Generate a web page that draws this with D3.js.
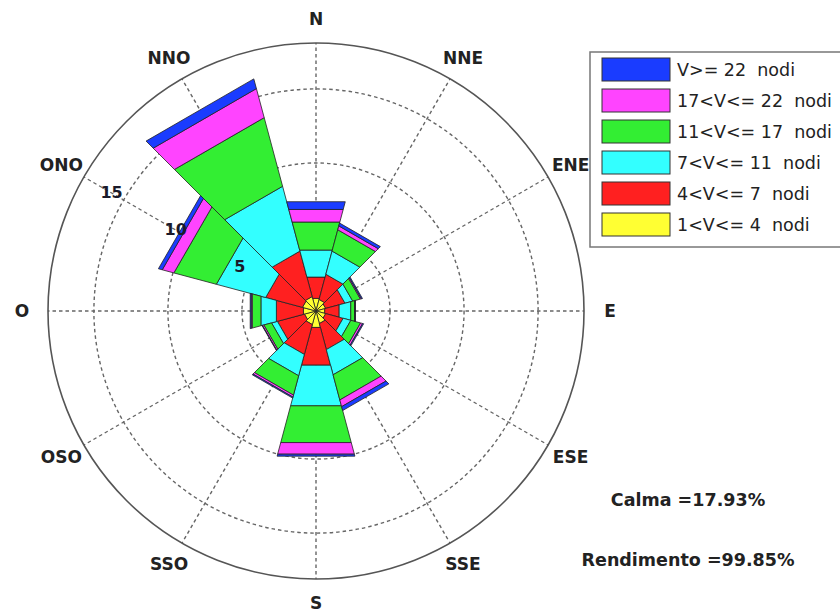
<!DOCTYPE html>
<html>
<head>
<meta charset="utf-8">
<script src="https://cdn.jsdelivr.net/npm/d3@7"></script>
<style>
  body { margin: 0; background: #fff; }
  text { font-family: "DejaVu Sans", sans-serif; }
</style>
</head>
<body>
<div id="rose"></div>
<script>
// direction names, one every 30 degrees clockwise from north
var directions = ["N", "NNE", "ENE", "E", "ESE", "SSE", "S", "SSO", "OSO", "O", "ONO", "NNO"];

// frequency (%) of each speed class per sector, same order as directions
var v1to4   = [0.88, 0.81, 0.68, 0.61, 0.68, 0.88, 1.15, 0.95, 0.81, 0.88, 0.95, 1.01];
var v4to7   = [1.49, 1.76, 1.35, 1.01, 1.22, 1.82, 2.64, 2.09, 1.89, 1.89, 2.57, 3.18];
var v7to11  = [1.89, 1.62, 0.54, 0.81, 0.54, 1.76, 2.84, 1.49, 0.41, 1.08, 3.45, 4.53];
var v11to17 = [1.96, 1.49, 0.54, 0.27, 0.68, 1.76, 2.57, 1.35, 0.54, 0.61, 2.97, 4.80];
var v17to22 = [0.88, 0.27, 0.07, 0.03, 0.14, 0.47, 0.81, 0.14, 0.10, 0.07, 0.81, 2.03];
var v22up   = [0.54, 0.20, 0.07, 0.03, 0.07, 0.27, 0.14, 0.07, 0.03, 0.07, 0.27, 0.68];

var classKeys = ["v1to4", "v4to7", "v7to11", "v11to17", "v17to22", "v22up"];
var classLabels = ["1<V<= 4  nodi", "4<V<= 7  nodi", "7<V<= 11  nodi",
                   "11<V<= 17  nodi", "17<V<= 22  nodi", "V>= 22  nodi"];
var classColors = ["#ffff33", "#ff2020", "#33ffff", "#33ee33", "#ff44ff", "#1a3cff"];

var ringTicks = [5, 10, 15];
var rMaxValue = 18.1;
var calma = "Calma =17.93%";
var rendimento = "Rendimento =99.85%";

var width = 840, height = 613,
    cx = 316, cy = 311,
    outerR = 268;

var svg = d3.select("#rose").append("svg")
    .attr("width", width)
    .attr("height", height);

var r = d3.scaleLinear().domain([0, rMaxValue]).range([0, outerR]);
var sectorAngle = d3.scaleLinear().domain([0, directions.length]).range([0, 2 * Math.PI]);
var half = Math.PI / directions.length;

var g = svg.append("g")
    .attr("transform", "translate(" + cx + "," + cy + ")");

// grid: dashed rings and spokes
g.selectAll(".ring")
    .data(ringTicks)
  .enter().append("circle")
    .attr("class", "ring")
    .attr("r", function(d) { return r(d); })
    .attr("fill", "none")
    .attr("stroke", "#666")
    .attr("stroke-width", 1.4)
    .attr("stroke-dasharray", "3.5,3");

g.selectAll(".spoke")
    .data(directions)
  .enter().append("line")
    .attr("class", "spoke")
    .attr("x1", 0).attr("y1", 0)
    .attr("x2", function(d, i) { return outerR * Math.sin(sectorAngle(i)); })
    .attr("y2", function(d, i) { return -outerR * Math.cos(sectorAngle(i)); })
    .attr("stroke", "#666")
    .attr("stroke-width", 1.4)
    .attr("stroke-dasharray", "3.5,3");

g.append("circle")
    .attr("r", outerR)
    .attr("fill", "none")
    .attr("stroke", "#555")
    .attr("stroke-width", 1.6);

// stacked sectors
var rows = directions.map(function(d, i) {
  return {dir: d, i: i, v1to4: v1to4[i], v4to7: v4to7[i], v7to11: v7to11[i],
          v11to17: v11to17[i], v17to22: v17to22[i], v22up: v22up[i]};
});
var layers = d3.stack().keys(classKeys)(rows);

var poly = d3.lineRadial()
    .angle(function(p) { return p[0]; })
    .radius(function(p) { return r(p[1]); })
    .curve(d3.curveLinearClosed);

layers.forEach(function(layer, k) {
  g.selectAll(".band-" + k)
      .data(layer)
    .enter().append("path")
      .attr("class", "band-" + k)
      .attr("d", function(d) {
        var a = sectorAngle(d.data.i);
        return poly([[a - half, d[0]], [a + half, d[0]], [a + half, d[1]], [a - half, d[1]]]);
      })
      .attr("fill", classColors[k])
      .attr("stroke", "#222")
      .attr("stroke-width", 0.8)
      .attr("stroke-linejoin", "round");
});

// ring labels along the ONO spoke
var labelAngle = sectorAngle(10);
g.selectAll(".ring-label")
    .data(ringTicks)
  .enter().append("text")
    .attr("class", "ring-label")
    .attr("x", function(d) { return (r(d) + 14) * Math.sin(labelAngle); })
    .attr("y", function(d) { return -(r(d) + 14) * Math.cos(labelAngle); })
    .attr("text-anchor", "middle")
    .attr("dominant-baseline", "central")
    .attr("font-size", 16)
    .attr("font-weight", "bold")
    .attr("fill", "#1a1a2a")
    .text(function(d) { return d; });

// direction labels
g.selectAll(".dir")
    .data(directions)
  .enter().append("text")
    .attr("class", "dir")
    .attr("x", function(d, i) { return 294 * Math.sin(sectorAngle(i)); })
    .attr("y", function(d, i) { return -292 * Math.cos(sectorAngle(i)); })
    .attr("text-anchor", "middle")
    .attr("dominant-baseline", "central")
    .attr("font-size", 17)
    .attr("font-weight", "bold")
    .attr("fill", "#222")
    .text(function(d) { return d; });

// legend
var legend = svg.append("g").attr("transform", "translate(590,52)");
legend.append("rect")
    .attr("width", 270).attr("height", 195)
    .attr("fill", "#fff")
    .attr("stroke", "#777")
    .attr("stroke-width", 1.5);

var items = legend.selectAll(".item")
    .data(d3.range(classKeys.length).reverse())
  .enter().append("g")
    .attr("class", "item")
    .attr("transform", function(d, j) { return "translate(12," + (6 + j * 31) + ")"; });

items.append("rect")
    .attr("width", 68).attr("height", 23)
    .attr("fill", function(k) { return classColors[k]; })
    .attr("stroke", "#333")
    .attr("stroke-width", 1);

items.append("text")
    .attr("x", 75).attr("y", 12)
    .attr("dominant-baseline", "central")
    .attr("font-family", "'Liberation Sans', Arial, sans-serif")
    .attr("font-size", 17.5)
    .attr("fill", "#222")
    .style("white-space", "pre")
    .text(function(k) { return classLabels[k]; });

// notes
svg.append("text")
    .attr("x", 688).attr("y", 500)
    .attr("text-anchor", "middle")
    .attr("dominant-baseline", "central")
    .attr("font-size", 17.5)
    .attr("font-weight", "bold")
    .attr("fill", "#222")
    .text(calma);

svg.append("text")
    .attr("x", 688).attr("y", 560)
    .attr("text-anchor", "middle")
    .attr("dominant-baseline", "central")
    .attr("font-size", 17.5)
    .attr("font-weight", "bold")
    .attr("fill", "#222")
    .text(rendimento);
</script>
</body>
</html>
